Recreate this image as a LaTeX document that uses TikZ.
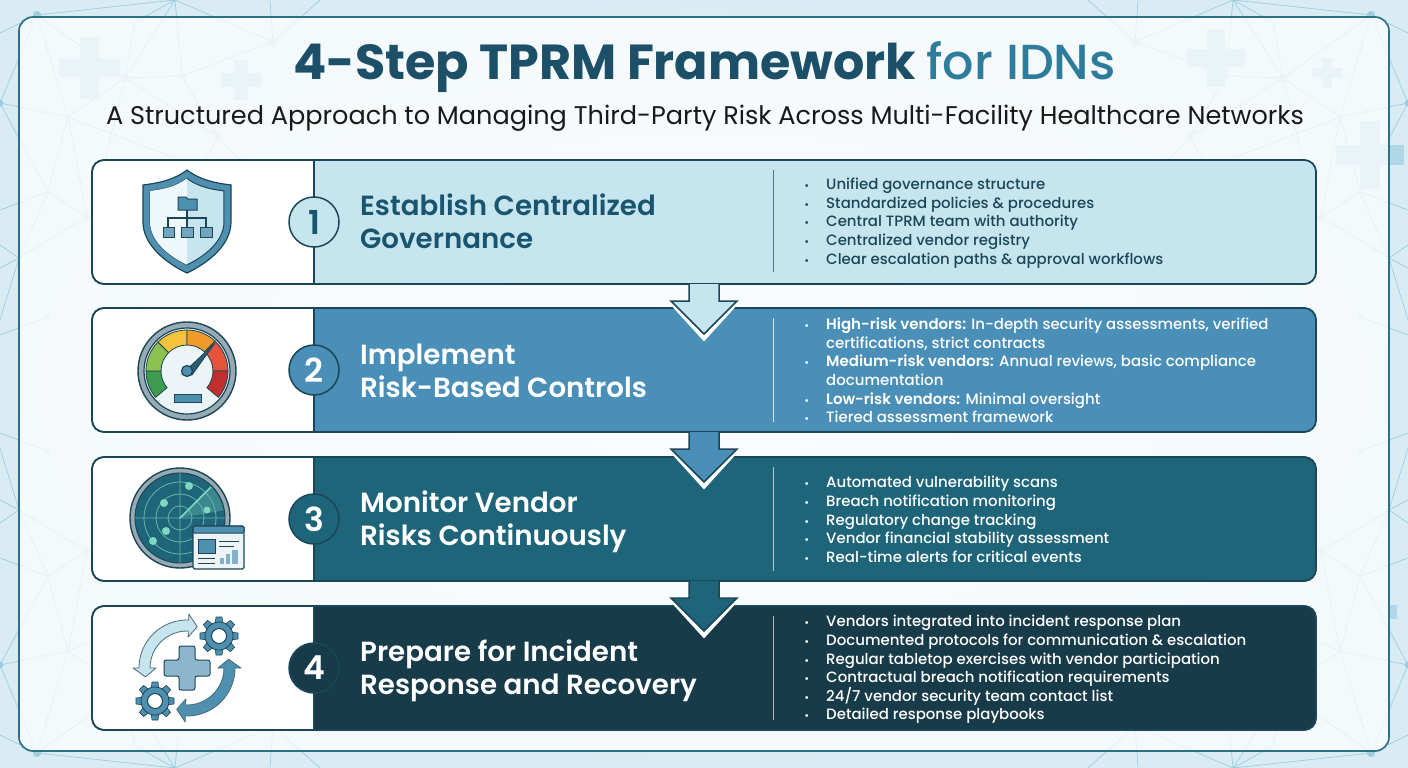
\documentclass[tikz,border=0pt]{standalone}
\usepackage{fontspec}
\usepackage{xcolor}
\setmainfont{Poppins}[BoldFont=* SemiBold]
\newfontfamily\titlefont{Poppins}[UprightFont=* Medium,BoldFont=* Bold]
\newfontfamily\listfont{Poppins}[UprightFont=* Medium,BoldFont=* SemiBold]
\usepackage{tikz}
\usetikzlibrary{shapes,positioning}
\definecolor{edgec}{HTML}{1B4657}
\definecolor{panelc}{HTML}{2F7088}
\definecolor{titlec}{HTML}{1C4F68}
\definecolor{forc}{HTML}{2D7C9C}
\definecolor{stepa}{HTML}{C7E5EF}
\definecolor{stepb}{HTML}{4A8FB7}
\definecolor{stepc}{HTML}{1E6579}
\definecolor{stepd}{HTML}{173B49}
\definecolor{inka}{HTML}{1A5570}
\definecolor{netc}{HTML}{9CCDE0}
\definecolor{iconc}{HTML}{4F8FB0}
\definecolor{bgin}{HTML}{F3F9FC}
\definecolor{bgout}{HTML}{DAECF3}
\definecolor{greena}{HTML}{3E9B4F}
\definecolor{greenb}{HTML}{8CC152}
\definecolor{yellowa}{HTML}{F5C33B}
\definecolor{orangea}{HTML}{F09A2A}
\definecolor{reda}{HTML}{E5533D}
\definecolor{redb}{HTML}{C22F2F}
\definecolor{blipc}{HTML}{7FD9C0}
\tikzset{card/.style={rectangle,draw=edgec,line width=1.6pt,fill=white,rounded corners=12pt,minimum width=1224pt,minimum height=124pt,outer sep=0pt}}
\tikzset{numc/.style={circle,draw=edgec,line width=1.5pt,minimum size=50pt,inner sep=0pt,font=\fontsize{33}{33}\selectfont\bfseries}}
\tikzset{headc/.style={anchor=west,align=left,inner sep=0pt,font=\fontsize{27.7}{33}\selectfont\bfseries}}
\tikzset{listc/.style={anchor=west,align=left,inner sep=0pt,font=\listfont\fontsize{14.95}{18.6}\selectfont}}
\tikzset{netl/.style={draw=netc,line width=0.7pt}}
\newcommand{\blt}{\leavevmode\llap{\scalebox{.7}{\textbullet}\hspace{17pt}}}
\newcommand{\pluscross}[4]{\fill[netc!80] (#1-#3,#2-#4) rectangle (#1+#3,#2+#4); \fill[netc!80] (#1-#4,#2-#3) rectangle (#1+#4,#2+#3);}
% coloured right part of a card, with the divider at its left
\newcommand{\stepband}[2]{\path[fill=#2] ([xshift=222pt]#1.north west) [rounded corners=12pt] -- (#1.north east) -- (#1.south east) [sharp corners] -- ([xshift=222pt]#1.south west) -- cycle;
  \draw[draw=edgec,line width=1.6pt,rounded corners=12pt] (#1.north west) rectangle (#1.south east);
  \draw[draw=edgec,line width=1.6pt] ([xshift=222pt]#1.north west) -- ([xshift=222pt]#1.south west);}
% block arrow from one card into the next
\newcommand{\steparrow}[2]{\draw[white,line width=6pt,line join=miter] ([xshift=-30pt,yshift=-20pt]#1.south) -- ([yshift=-53pt]#1.south) -- ([xshift=30pt,yshift=-20pt]#1.south);
  \path[fill=#2] ([xshift=-15pt]#1.south) -- ([xshift=-15pt,yshift=-17pt]#1.south) -- ([xshift=-33pt,yshift=-17pt]#1.south) -- ([yshift=-50pt]#1.south) -- ([xshift=33pt,yshift=-17pt]#1.south) -- ([xshift=15pt,yshift=-17pt]#1.south) -- ([xshift=15pt]#1.south) -- cycle;
  \draw[draw=edgec,line width=1.5pt,line join=miter] ([xshift=-15pt]#1.south) -- ([xshift=-15pt,yshift=-17pt]#1.south) -- ([xshift=-33pt,yshift=-17pt]#1.south) -- ([yshift=-50pt]#1.south) -- ([xshift=33pt,yshift=-17pt]#1.south) -- ([xshift=15pt,yshift=-17pt]#1.south) -- ([xshift=15pt]#1.south);}
\newcommand{\gaugeseg}[3]{\filldraw[fill=#3,draw=edgec,line width=0.8pt] (#1:26) arc[start angle=#1,end angle=#2,radius=26] -- (#2:41) arc[start angle=#2,end angle=#1,radius=41] -- cycle;}
\newcommand{\gearicon}[2]{\begin{scope}[shift={(#1,#2)},y=1pt]
    \foreach \a in {0,45,...,315} {\fill[iconc,draw=edgec,line width=0.6pt,rotate=\a] (-4,11) -- (-3,19) -- (3,19) -- (4,11) -- cycle;}
    \filldraw[fill=iconc,draw=edgec,line width=0.8pt] (0,0) circle (14);
    \filldraw[fill=white,draw=edgec,line width=1pt] (0,0) circle (7.5);
  \end{scope}}
% double headed curved arrow around the cross
\newcommand{\ringarrow}[3]{\filldraw[fill=#3,draw=edgec!80,line width=0.8pt,line join=round] (#1+12:37) arc[start angle=#1+12,end angle=#2-12,radius=37] -- (#2-12:31) -- (#2:42.5) -- (#2-12:54) -- (#2-12:48) arc[start angle=#2-12,end angle=#1+12,radius=48] -- (#1+12:54) -- (#1:42.5) -- (#1+12:31) -- cycle;}
\newcommand{\shieldpath}{(187,170) .. controls (200,180) and (215,183) .. (231,185) -- (231,222) .. controls (231,245) and (208,263) .. (187,273) .. controls (166,263) and (143,245) .. (143,222) -- (143,185) .. controls (159,183) and (174,180) .. (187,170) -- cycle}
\begin{document}
\begin{tikzpicture}[x=1pt,y=-1pt]
    \useasboundingbox (0,0) rectangle (1408,768);
    \shade[inner color=bgin,outer color=bgout] (0,0) rectangle (1408,768);

    % network in the back, the same in each quarter
    \foreach \sx/\sy in {1/1,-1/1,1/-1,-1/-1} {
      \begin{scope}[shift={(704,384)},xscale=\sx,yscale=\sy,shift={(-704,-384)}]
        \draw[netl] (0,33) -- (37,15) -- (175,0) -- (135,22) -- (125,78) -- (37,15) -- (68,117) -- (0,103) -- (37,15);
        \draw[netl] (68,117) -- (125,78) -- (182,76) -- (273,42) -- (320,0);
        \draw[netl] (175,0) -- (273,42) -- (270,0);
        \draw[netl] (125,78) -- (175,0) -- (182,76) -- (218,137) -- (125,78) -- (105,160);
        \draw[netl] (218,137) -- (205,160);
        \draw[netl] (218,137) -- (240,160);
        \draw[netl] (0,103) -- (48,192) -- (68,117) -- (87,217) -- (48,192) -- (19,258) -- (87,217);
        \draw[netl] (48,192) -- (0,210);
        \draw[netl] (19,258) -- (0,245);
        \draw[netl] (19,258) -- (0,268);
        \draw[netl] (19,258) -- (0,320);
        \draw[netl] (48,317) -- (0,335);
        \draw[netl] (68,117) -- (180,160);
        \fill[netc] (37,15) circle (4);
        \fill[netc] (0,103) circle (3.5);
        \fill[netc!70] (125,78) circle (4);
        \fill[netc!70] (182,76) circle (3.5);
        \fill[netc!70] (273,42) circle (4.5);
        \fill[netc!70] (218,137) circle (3);
        \fill[netc!70] (87,217) circle (3.5);
        \fill[netc!70] (48,317) circle (3);
      \end{scope}
    }
    \pluscross{89}{68}{30.5}{9.5}
    \pluscross{241}{80}{20}{7}
    \pluscross{1216}{58}{29}{9}
    \pluscross{1327}{73}{15}{5}
    \pluscross{1370}{155}{34}{10}

    \node[rectangle,draw=panelc,line width=1.7pt,fill=white,fill opacity=0.72,rounded corners=14pt,minimum width=1370pt,minimum height=734pt] (panel) at (704,384) {};
    \fill[netc!80] (1390,605) rectangle (1397,619);

    \node[inner sep=0pt,text=titlec,font=\titlefont\fontsize{49.2}{50}\selectfont\bfseries] (title) at (704.5,67) {4-Step TPRM Framework {\mdseries\color{forc}for IDNs}};
    \node[inner sep=0pt,text=black!90,font=\fontsize{25.55}{26}\selectfont] (subtitle) at (705,118) {A Structured Approach to Managing Third-Party Risk Across Multi-Facility Healthcare Networks};

    \node[card] (card1) at (704,222) {};
    \node[card] (card2) at (704,370) {};
    \node[card] (card3) at (704,519) {};
    \node[card] (card4) at (704,668) {};
    \stepband{card1}{stepa}
    \stepband{card2}{stepb}
    \stepband{card3}{stepc}
    \stepband{card4}{stepd}

    \steparrow{card1}{stepa}
    \steparrow{card2}{stepb}
    \steparrow{card3}{stepc}

    \node[numc,fill=stepa,text=inka] (num1) at (314,222) {1};
    \node[numc,fill=stepb,text=white] (num2) at (314,370) {2};
    \node[numc,fill=stepc,text=white] (num3) at (314,519) {3};
    \node[numc,fill=stepd,text=white] (num4) at (314,668) {4};

    \node[headc,text=inka] (head1) at (360,221) {Establish Centralized\\Governance};
    \node[headc,text=white] (head2) at (360,370.5) {Implement\\Risk-Based Controls};
    \node[headc,text=white] (head3) at (360,522) {Monitor Vendor\\Risks Continuously};
    \node[headc,text=white] (head4) at (360,671) {Prepare for Incident\\Response and Recovery};

    \draw[inka!80,line width=1pt] (773,170) -- (773,272);
    \draw[white!75!stepb,line width=1pt] (773,318) -- (773,422);
    \draw[white!65!stepc,line width=1pt] (773,467) -- (773,571);
    \draw[white!65!stepd,line width=1pt] (773,616) -- (773,720);

    \node[listc,text=edgec] (list1) at (826,223) {\blt Unified governance structure\\\blt Standardized policies \& procedures\\\blt Central TPRM team with authority\\\blt Centralized vendor registry\\\blt Clear escalation paths \& approval workflows};
    \node[listc,text=white] (list2) at (826,370.5) {\blt\textbf{High-risk vendors:} In-depth security assessments, verified\\certifications, strict contracts\\\blt\textbf{Medium-risk vendors:} Annual reviews, basic compliance\\documentation\\\blt\textbf{Low-risk vendors:} Minimal oversight\\\blt Tiered assessment framework};
    \node[listc,text=white] (list3) at (826,519.5) {\blt Automated vulnerability scans\\\blt Breach notification monitoring\\\blt Regulatory change tracking\\\blt Vendor financial stability assessment\\\blt Real-time alerts for critical events};
    \node[listc,text=white] (list4) at (826,669.5) {\blt Vendors integrated into incident response plan\\\blt Documented protocols for communication \& escalation\\\blt Regular tabletop exercises with vendor participation\\\blt Contractual breach notification requirements\\\blt 24/7 vendor security team contact list\\\blt Detailed response playbooks};

    % shield icon
    \filldraw[fill=iconc,draw=edgec,line width=1.2pt] \shieldpath;
    \begin{scope}[shift={(187,222)},scale=.84,shift={(-187,-222)}]
      \filldraw[fill=stepa,draw=edgec,line width=1pt] \shieldpath;
      \begin{scope}
        \clip (143,165) rectangle (187,275);
        \fill[white!70!stepa] \shieldpath;
      \end{scope}
    \end{scope}
    \draw[edgec,line width=1.1pt] (187,210) -- (187,227);
    \draw[edgec,line width=1.1pt] (168,227) -- (168,218) -- (206,218) -- (206,227);
    \filldraw[fill=iconc,draw=edgec,line width=1pt] (178,197) -- (186,197) -- (188,199) -- (197,199) -- (197,210) -- (178,210) -- cycle;
    \filldraw[fill=iconc!80,draw=edgec,line width=1pt] (163,227) rectangle (174,237);
    \filldraw[fill=iconc!80,draw=edgec,line width=1pt] (181,227) rectangle (193,237);
    \filldraw[fill=iconc!80,draw=edgec,line width=1pt] (200,227) rectangle (212,237);

    % gauge icon
    \begin{scope}[shift={(187,371)},y=1pt]
      \filldraw[fill=gray!55!iconc!70,draw=edgec,line width=1.4pt] (0,0) circle (49);
      \filldraw[fill=white!90!iconc,draw=edgec,line width=1.2pt] (0,0) circle (43);
      \gaugeseg{180}{220}{greena}
      \gaugeseg{135}{180}{greenb}
      \gaugeseg{90}{135}{yellowa}
      \gaugeseg{47}{90}{orangea}
      \gaugeseg{0}{47}{reda}
      \gaugeseg{-40}{0}{redb}
      \filldraw[fill=edgec!70!iconc,draw=edgec,line width=0.8pt] (-5,-3) -- (28,28) -- (5,-4) -- cycle;
      \filldraw[fill=iconc,draw=edgec,line width=1.2pt] (0,0) circle (5.5);
      \filldraw[fill=iconc,draw=edgec,line width=1pt] (-13,-23) rectangle (14,-31);
    \end{scope}

    % radar icon
    \begin{scope}[shift={(180,518)},y=1pt]
      \filldraw[fill=gray!60!iconc!70,draw=edgec,line width=1.4pt] (0,0) circle (50);
      \filldraw[fill=stepc,draw=edgec,line width=1pt] (0,0) circle (45);
      \fill[blipc,opacity=0.3] (0,0) -- (45:44) arc[start angle=45,end angle=10,radius=44] -- cycle;
      \draw[blipc!70!stepc,line width=0.8pt] (0,0) circle (12) (0,0) circle (24) (0,0) circle (36) (-45,0) -- (45,0) (0,-45) -- (0,45);
      \draw[blipc,line width=1.5pt] (0,0) -- (45:44);
      \fill[blipc] (9,32) circle (4);
      \fill[blipc] (-16,15) circle (4);
      \fill[blipc] (27,8) circle (3.5);
      \fill[blipc] (-14,-13) circle (4);
      \fill[blipc] (-27,-23) circle (4);
    \end{scope}
    \filldraw[fill=white!90!iconc,draw=edgec,line width=1.2pt,rounded corners=1.5pt] (193,526) rectangle (244,569);
    \filldraw[fill=iconc,draw=edgec,line width=1pt,rounded corners=1.5pt] (193,526) rectangle (244,533);
    \filldraw[fill=iconc,draw=edgec,line width=1pt] (198,539) rectangle (215,553);
    \draw[edgec,line width=1pt] (219,541) -- (239,541) (219,546) -- (234,546) (198,558) -- (215,558) (198,563) -- (215,563);
    \fill[iconc!70] (220,558) rectangle (224,564);
    \fill[iconc!70] (226,554) rectangle (230,564);
    \fill[iconc!70] (232,550) rectangle (238,564);

    % incident icon
    \begin{scope}[shift={(187,668)},y=1pt]
      \ringarrow{76}{192}{stepa}
      \ringarrow{-104}{12}{iconc}
    \end{scope}
    \gearicon{219}{636}
    \gearicon{155}{701}
    \filldraw[fill=iconc!65,draw=edgec,line width=1pt,rounded corners=2pt] (179,646) -- (195,646) -- (195,660) -- (210,660) -- (210,676) -- (195,676) -- (195,690) -- (179,690) -- (179,676) -- (164,676) -- (164,660) -- (179,660) -- cycle;
\end{tikzpicture}
\end{document}
